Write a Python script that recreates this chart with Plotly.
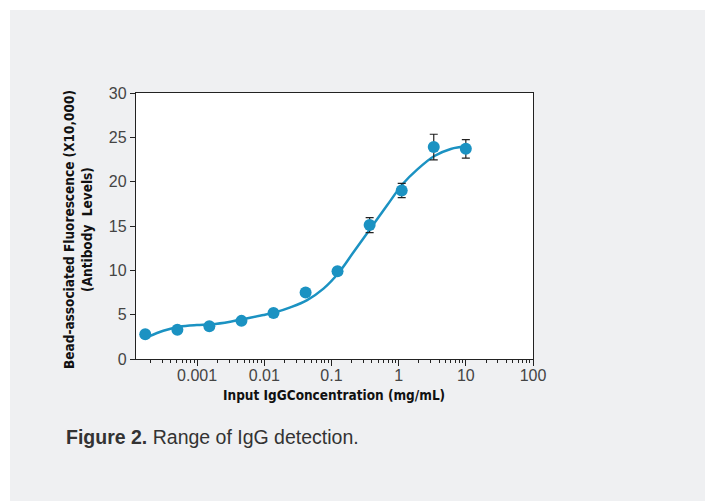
import plotly.graph_objects as go

# Measured points (3-fold dilutions)
conc = [0.000169, 0.000508, 0.00152, 0.00457, 0.0137, 0.0412, 0.123, 0.370, 1.11, 3.33, 10.0]
fluor = [2.8, 3.3, 3.7, 4.3, 5.2, 7.5, 9.9, 15.1, 19.0, 23.9, 23.7]
err = [0, 0, 0, 0, 0, 0, 0, 0.85, 0.8, 1.45, 1.05]

# Fitted curve
curve_x = [0.000188, 0.000314, 0.000545, 0.000989, 0.00162, 0.00311, 0.00486, 0.00977,
           0.0144, 0.0244, 0.0434, 0.0769, 0.128, 0.215, 0.382, 0.678, 1.15, 1.90, 3.40, 5.97, 10.35]
curve_y = [2.52, 3.19, 3.64, 3.83, 3.91, 4.21, 4.51, 4.96, 5.26, 5.83, 6.65, 7.97, 9.73,
           12.10, 14.73, 17.36, 19.73, 21.38, 22.89, 23.68, 24.01]

x_tickvals = [0.001, 0.01, 0.1, 1, 10, 100]
x_ticktext = ["0.001", "0.01", "0.1", "1", "10", "100"]
y_tickvals = [0, 5, 10, 15, 20, 25, 30]

BLUE = "#1b92c2"
W, H = 705, 501
L, R, T, B = 136, 533, 93, 359

def px(x):
    return (x - L) / (R - L)

def py(y):
    return (B - y) / (B - T)

fig = go.Figure()
fig.add_trace(go.Scatter(x=curve_x, y=curve_y, mode="lines",
                         line=dict(color=BLUE, width=2.5, shape="spline"),
                         hoverinfo="skip", showlegend=False))
fig.add_trace(go.Scatter(x=conc, y=fluor, mode="markers",
                         marker=dict(color=BLUE, size=12),
                         error_y=dict(type="data", array=err, visible=True,
                                      color="#222222", thickness=1.2, width=4),
                         showlegend=False))

tickfont = dict(family="Liberation Sans, Arial, sans-serif", size=16, color="#444444")
titlefont = dict(family="Liberation Sans Narrow, Arial Narrow, DejaVu Sans Condensed, sans-serif",
                 size=13.5, color="#111111")

fig.update_xaxes(type="log", range=[-3.91, 2], tickvals=x_tickvals, ticktext=x_ticktext,
                 ticks="outside", ticklen=6, tickcolor="#222", tickwidth=1,
                 showline=True, linecolor="#222", linewidth=1.3, mirror=True,
                 showgrid=False, zeroline=False, tickfont=tickfont, ticklabelstandoff=-4,
                 minor=dict(ticks="outside", ticklen=3, tickcolor="#222", dtick="D1", showgrid=False))
fig.update_yaxes(range=[0, 30], tickvals=y_tickvals, ticks="outside", ticklen=5,
                 tickcolor="#222", showline=True, linecolor="#222", linewidth=1.3, mirror=True,
                 showgrid=False, zeroline=False, tickfont=tickfont)

shapes = [
    dict(type="rect", xref="paper", yref="paper", x0=px(0), x1=px(W), y0=py(0), y1=py(10),
         fillcolor="white", line_width=0, layer="below"),
    dict(type="rect", xref="paper", yref="paper", x0=px(0), x1=px(10), y0=py(0), y1=py(H),
         fillcolor="white", line_width=0, layer="below"),
]

annotations = [
    dict(text="<b>Input IgGConcentration (mg/mL)</b>", xref="paper", yref="paper",
         x=px(334), y=py(395), showarrow=False, font=titlefont, xanchor="center", yanchor="middle"),
    dict(text="<b>Bead-associated Fluorescence (X10,000)<br>(Antibody  Levels)</b>",
         xref="paper", yref="paper", x=px(78), y=py(230), textangle=-90, showarrow=False,
         font=titlefont, xanchor="center", yanchor="middle"),
    dict(text="<b>Figure 2.</b> Range of IgG detection.", xref="paper", yref="paper",
         x=px(64), y=py(437), showarrow=False, xanchor="left", yanchor="middle",
         font=dict(family="Liberation Sans, Arial, sans-serif", size=19.5, color="#333333")),
]

fig.update_layout(width=W, height=H, margin=dict(l=L, r=W - R, t=T, b=H - B),
                  paper_bgcolor="#eff0f2", plot_bgcolor="white",
                  shapes=shapes, annotations=annotations)

fig.write_html("out.html", config={"displayModeBar": False},
               post_script="document.body.style.margin='0';")
